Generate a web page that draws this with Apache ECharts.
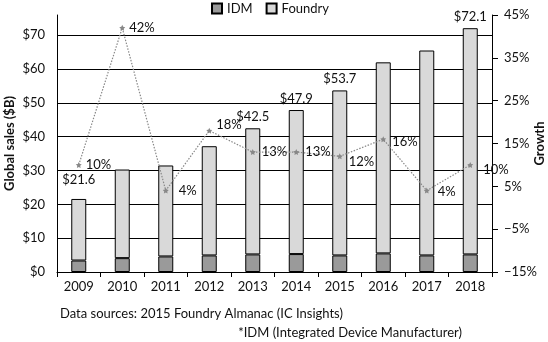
<!DOCTYPE html>
<html>
<head>
<meta charset="utf-8">
<script src="https://cdn.jsdelivr.net/npm/echarts@6/dist/echarts.min.js"></script>
<style>
  html, body { margin: 0; padding: 0; background: #fff; }
  #chart { width: 548px; height: 342px; }
</style>
</head>
<body>
<div id="chart"></div>
<script>
// Global foundry / IDM sales and yearly growth
const years = ['2009', '2010', '2011', '2012', '2013', '2014', '2015', '2016', '2017', '2018'];
const totalSales = [21.6, 30.3, 31.5, 37.2, 42.5, 47.9, 53.7, 62.0, 65.5, 72.1];   // $B
const idmSales = [3.4, 4.1, 4.6, 4.9, 5.2, 5.3, 4.9, 5.5, 4.9, 5.2];               // $B
const growthPct = [10, 42, 4, 18, 13, 13, 12, 16, 4, 10];                          // %
const labeledTotals = ['2009', '2013', '2014', '2015', '2018'];
const salesTicks = [0, 10, 20, 30, 40, 50, 60, 70];
const growthTicks = [-15, -5, 5, 15, 25, 35, 45];

const FONT = 'Lato';
const FS = 13;
const foundrySales = totalSales.map((t, i) => +(t - idmSales[i]).toFixed(1));

// per-point label placement for the growth line
const growthLabelOffsets = [
  [0, 0], [0, 0], [6, 0], [0, -6], [2, 0], [2, 0], [2, 5], [2, 3], [4, 1], [6, 5]
];

const growthData = growthPct.map((v, i) => ({
  value: v,
  label: { offset: growthLabelOffsets[i] }
}));

const foundryData = foundrySales.map((v, i) => ({
  value: v,
  label: {
    show: labeledTotals.includes(years[i]),
    offset: years[i] === '2009' ? [0, -8] : [0, 0]
  }
}));

const star = 'path://M0,-10 L2.9,-4 L9.5,-3.1 L4.7,1.5 L5.9,8.1 L0,5 L-5.9,8.1 L-4.7,1.5 L-9.5,-3.1 L-2.9,-4 Z';

const chart = echarts.init(document.getElementById('chart'), null, { renderer: 'canvas' });
chart.setOption({
  animation: false,
  textStyle: { fontFamily: FONT },
  grid: { left: 57, right: 56, top: 15, bottom: 70, containLabel: false, outerBoundsMode: 'none' },
  legend: {
    left: 211, top: 2, padding: 0,
    itemWidth: 10, itemHeight: 10, itemGap: 13,
    icon: 'rect',
    textStyle: { fontFamily: FONT, fontSize: FS, color: '#111' },
    data: ['IDM', 'Foundry']
  },
  xAxis: {
    type: 'category',
    data: years,
    axisLine: { lineStyle: { color: '#000', width: 1 } },
    axisTick: { show: true, alignWithLabel: false, length: 5, lineStyle: { color: '#000' } },
    axisLabel: { color: '#111', fontSize: FS, margin: 8, fontFamily: FONT }
  },
  yAxis: [
    {
      type: 'value',
      min: 0, max: 76,
      name: 'Global sales ($B)',
      nameLocation: 'middle',
      nameGap: 41,
      nameRotate: 90,
      nameMoveOverlap: false,
      nameTextStyle: { fontWeight: 'bold', fontSize: FS, color: '#111', fontFamily: FONT },
      axisLine: { show: true, lineStyle: { color: '#000', width: 1 } },
      axisTick: { show: false, customValues: salesTicks },
      axisLabel: { customValues: salesTicks, formatter: v => '$' + v, color: '#111', fontSize: FS, margin: 12, fontFamily: FONT },
      splitLine: { show: true, lineStyle: { color: '#000', width: 1 } }
    },
    {
      type: 'value',
      min: -15, max: 45,
      position: 'right',
      name: 'Growth',
      nameLocation: 'middle',
      nameGap: 41,
      nameRotate: 90,
      nameMoveOverlap: false,
      nameTextStyle: { fontWeight: 'bold', fontSize: FS, color: '#111', fontFamily: FONT },
      axisLine: { show: true, lineStyle: { color: '#000', width: 1 } },
      axisTick: { show: true, inside: false, length: 6, customValues: growthTicks, lineStyle: { color: '#000' } },
      axisLabel: { customValues: growthTicks, formatter: v => (v < 0 ? '\u2212' + Math.abs(v) : v) + '%', color: '#111', fontSize: FS, margin: 12, fontFamily: FONT },
      splitLine: { show: false }
    }
  ],
  series: [
    {
      name: 'IDM',
      type: 'bar',
      stack: 'sales',
      barWidth: 15,
      data: idmSales,
      itemStyle: { color: '#9a9a9a', borderColor: '#000', borderWidth: 1 }
    },
    {
      name: 'Foundry',
      type: 'bar',
      stack: 'sales',
      barWidth: 15,
      data: foundryData,
      itemStyle: { color: '#d9d9d9', borderColor: '#000', borderWidth: 1 },
      label: {
        show: false,
        position: 'top',
        distance: 5,
        color: '#111',
        fontSize: FS,
        fontFamily: FONT,
        formatter: p => '$' + totalSales[p.dataIndex].toFixed(1)
      }
    },
    {
      name: 'Growth',
      type: 'line',
      yAxisIndex: 1,
      data: growthData,
      symbol: star,
      symbolSize: 6,
      itemStyle: { color: '#888' },
      lineStyle: { color: '#888', width: 1.2, type: [1.5, 1.5] },
      label: {
        show: true,
        position: 'right',
        distance: 4,
        color: '#111',
        fontSize: FS,
        fontFamily: FONT,
        formatter: p => p.value + '%'
      },
      z: 5
    }
  ],
  graphic: [
    {
      type: 'text', left: 60, top: 307,
      style: { text: 'Data sources: 2015 Foundry Almanac (IC Insights)', fontFamily: FONT, fontSize: FS, fill: '#111' }
    },
    {
      type: 'text', right: 86, top: 326,
      style: { text: '*IDM (Integrated Device Manufacturer)', fontFamily: FONT, fontSize: FS, fill: '#111' }
    }
  ]
});
</script>
</body>
</html>
